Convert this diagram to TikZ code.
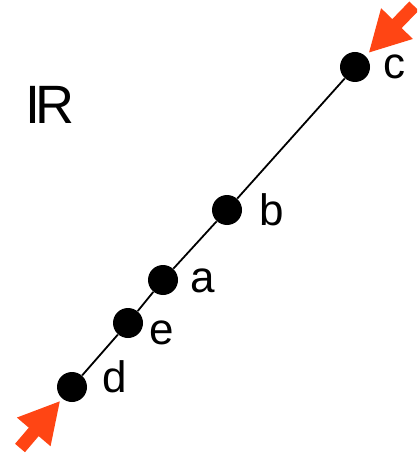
\documentclass[tikz,border=0pt]{standalone}
\usepackage{fontspec}
\setmainfont{Liberation Sans}
\usepackage{xcolor}
\usetikzlibrary{arrows.meta}

\definecolor{hitred}{HTML}{FF4514}

\begin{document}
\begin{tikzpicture}[
  x=0.5pt, y=-0.5pt,
  pt/.style={circle, fill=black, inner sep=0pt, minimum size=15pt},
  lbl/.style={font=\fontsize{22}{26}\selectfont, inner sep=0pt},
  hit/.style={line width=6.5pt, hitred, -{Triangle[length=20.5pt 0,width=20.5pt 0]}}
]
\useasboundingbox (0,0) rectangle (417,454);
\clip (0,0) rectangle (417,454);

% ==================== the real line ====================
\node[font=\fontsize{27}{32}\selectfont, inner sep=0pt] (space) at (50,105) {I\kern-0.11em R};

\node[pt] (c) at (355,67) {};
\node[pt] (b) at (227,210) {};
\node[pt] (a) at (163,280) {};
\node[pt] (e) at (128,323) {};
\node[pt] (d) at (72,387) {};

\draw[line width=0.9pt] (d) -- (e) -- (a) -- (b) -- (c);

% labels
\node[lbl] (lc) at (394,67) {c};
\node[lbl] (lb) at (272,210) {b};
\node[lbl] (la) at (203,281) {a};
\node[lbl] (le) at (162,333) {e};
\node[lbl] (ld) at (115,377) {d};

% ==================== incoming arrows ====================
\coordinate (cin) at (414,6);
\coordinate (din) at (20,448);
\draw[hit, shorten >=2pt] (cin) -- (c);
\draw[hit, shorten >=1.3pt] (din) -- (d);

\end{tikzpicture}
\end{document}
